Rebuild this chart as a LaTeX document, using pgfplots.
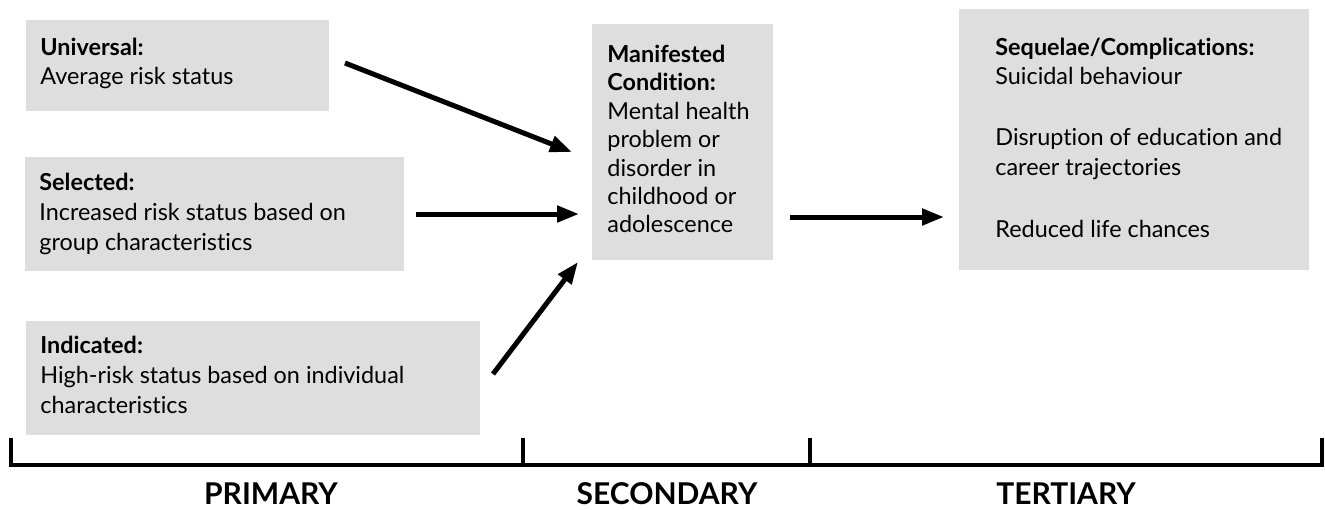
\documentclass[border=0pt]{standalone}
\usepackage{pgfplots}
\pgfplotsset{compat=1.18}
\usepackage{fontspec}
\setmainfont{Lato}[Ligatures={NoCommon}]
\usetikzlibrary{arrows.meta}
\definecolor{boxgray}{RGB}{222,222,222}
\begin{document}
\begin{tikzpicture}
\begin{axis}[scale only axis, width=662.5pt, height=254.5pt,
  xmin=0, xmax=1325, ymin=0, ymax=509, y dir=reverse,
  hide axis, clip=false]
% full-size frame for the bounding box
\path (axis cs:0,0) rectangle (axis cs:1325,509);
% boxes
\addplot[fill=boxgray, draw=none] coordinates {(26,20) (329,20) (329,111) (26,111)} --cycle;
\addplot[fill=boxgray, draw=none] coordinates {(25,157) (404,157) (404,271) (25,271)} --cycle;
\addplot[fill=boxgray, draw=none] coordinates {(26,321) (480,321) (480,435) (26,435)} --cycle;
\addplot[fill=boxgray, draw=none] coordinates {(592,24) (773,24) (773,260) (592,260)} --cycle;
\addplot[fill=boxgray, draw=none] coordinates {(959,9) (1309,9) (1309,270) (959,270)} --cycle;
% arrows
\addplot[line width=2.5pt, -{Triangle[length=11pt,width=8pt]}] coordinates {(345,63) (572,152)};
\addplot[line width=2.5pt, -{Triangle[length=11pt,width=8pt]}] coordinates {(416,214) (579,214)};
\addplot[line width=2.5pt, -{Triangle[length=11pt,width=8pt]}] coordinates {(493,374) (578,262)};
\addplot[line width=2.5pt, -{Triangle[length=11pt,width=8pt]}] coordinates {(790,217) (944,217)};
% bracket
\addplot[line width=2pt] coordinates {(11,438) (11,465) (1322,465) (1322,438)};
\addplot[line width=2pt] coordinates {(523,438) (523,465)};
\addplot[line width=2pt] coordinates {(810,438) (810,465)};
% texts
\begin{scope}[every node/.style={anchor=base west, inner sep=0pt, font=\fontsize{11.7}{13}\selectfont}]
\node at (axis cs:40,55) {\textbf{Universal:}};
\node at (axis cs:40,84) {Average risk status};
\node at (axis cs:39,190) {\textbf{Selected:}};
\node at (axis cs:39,220) {Increased risk status based on};
\node at (axis cs:39,250) {group characteristics};
\node at (axis cs:40,353) {\textbf{Indicated:}};
\node at (axis cs:40,383) {High-risk status based on individual};
\node at (axis cs:40,413) {characteristics};
\node at (axis cs:607,62) {\textbf{Manifested}};
\node at (axis cs:607,90) {\textbf{Condition:}};
\node at (axis cs:607,119) {Mental health};
\node at (axis cs:607,147) {problem or};
\node at (axis cs:607,176) {disorder in};
\node at (axis cs:607,204) {childhood or};
\node at (axis cs:607,232) {adolescence};
\node at (axis cs:995,55) {\textbf{Sequelae/Complications:}};
\node at (axis cs:995,84) {Suicidal behaviour};
\node at (axis cs:995,145) {Disruption of education and};
\node at (axis cs:995,175) {career trajectories};
\node at (axis cs:995,237) {Reduced life chances};
\end{scope}
\begin{scope}[every node/.style={anchor=base, inner sep=0pt, font=\fontsize{15}{17}\selectfont\bfseries}]
\node at (axis cs:271,504) {PRIMARY};
\node at (axis cs:667,504) {SECONDARY};
\node at (axis cs:1066,504) {TERTIARY};
\end{scope}
\end{axis}
\end{tikzpicture}
\end{document}
